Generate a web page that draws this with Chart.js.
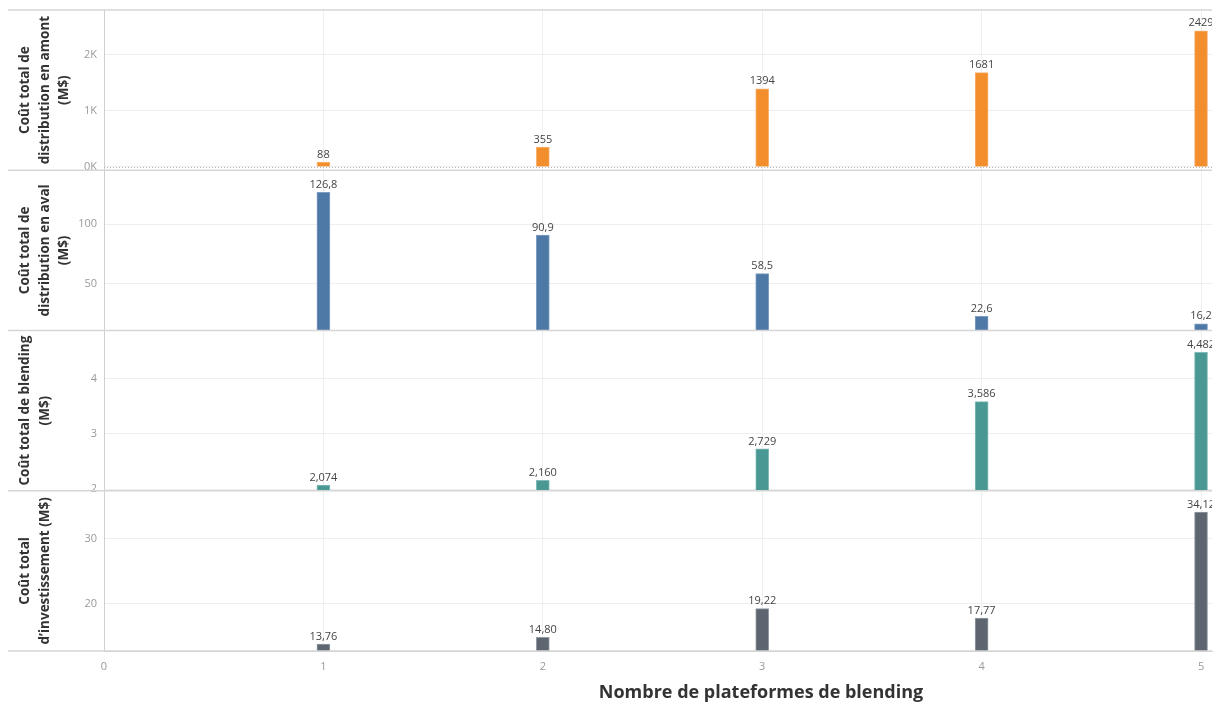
<!DOCTYPE html>
<html>
<head>
<meta charset="utf-8">
<script src="https://cdn.jsdelivr.net/npm/chart.js@4.4.1/dist/chart.umd.min.js"></script>
<style>
  html, body { margin: 0; padding: 0; background: #fff; }
</style>
</head>
<body>
<canvas id="chart" width="1221" height="706"></canvas>
<script>
const platforms = [1, 2, 3, 4, 5]
const xTicks = [0, 1, 2, 3, 4, 5]

const amont = [88, 355, 1394, 1681, 2429]
const aval = [126.8, 90.9, 58.5, 22.6, 16.2]
const blending = [2.074, 2.160, 2.729, 3.586, 4.482]
const investissement = [13.76, 14.80, 19.22, 17.77, 34.12]

const amontTicks = [0, 1000, 2000]
const avalTicks = [50, 100]
const blendingTicks = [2, 3, 4]
const investTicks = [20, 30]

const FONT = "'Open Sans', 'Noto Sans', sans-serif"
const GRID = '#efefef'
const AXIS = '#d0d0d0'
const TICK = '#9a9a9a'

// French decimal comma for the bar labels
const frNum = (v, digits) => v.toFixed(digits).replace('.', ',')

const toPoints = values => platforms.map((x, i) => ({ x, y: values[i] }))

function panelAxis (title, min, max, ticks, fmt) {
  return {
    type: 'linear',
    position: 'left',
    stack: 'panels',
    stackWeight: 1,
    offset: false,
    min,
    max,
    afterBuildTicks: scale => { scale.ticks = ticks.map(value => ({ value })) },
    afterFit: scale => {
      scale.width = 104
      // no extra room for the end labels, panels sit flush
      scale.paddingTop = 0
      scale.paddingBottom = 0
    },
    grid: { color: GRID, drawTicks: false },
    border: { color: AXIS },
    ticks: {
      color: TICK,
      padding: 7,
      font: { family: FONT, size: 11 },
      callback: fmt || (v => v)
    },
    title: {
      display: true,
      text: title,
      color: '#333',
      padding: { top: 16, bottom: 0 },
      font: { family: FONT, size: 13.5, weight: 'bold', lineHeight: 1.42 }
    }
  }
}

const barDataset = (label, values, axis, color, border, digits) => ({
  label,
  data: toPoints(values),
  yAxisID: axis,
  backgroundColor: color,
  borderColor: border,
  borderWidth: 1,
  barThickness: 13,
  grouped: false,
  digits
})

// separators between the panels, dotted zero line in the top panel, x title
const panelLines = {
  id: 'panelLines',
  afterDraw (chart) {
    const { ctx, chartArea, scales } = chart
    const ids = ['yAmont', 'yAval', 'yBlend', 'yInvest']
    ctx.save()
    ctx.strokeStyle = '#d6d6d6'
    ctx.lineWidth = 1.5
    const ys = ids.map(id => scales[id].top)
    ys.push(scales.yInvest.bottom)
    ys.forEach(y => {
      ctx.beginPath()
      ctx.moveTo(8, y)
      ctx.lineTo(chartArea.right, y)
      ctx.stroke()
    })

    const zeroY = Math.round(scales.yAmont.getPixelForValue(0)) + 0.5
    ctx.strokeStyle = '#b5b5b5'
    ctx.lineWidth = 1
    ctx.setLineDash([1, 2])
    ctx.beginPath()
    ctx.moveTo(chartArea.left, zeroY)
    ctx.lineTo(chartArea.right, zeroY)
    ctx.stroke()
    ctx.setLineDash([])

    ctx.fillStyle = '#333'
    ctx.font = `bold 18px ${FONT}`
    ctx.textAlign = 'center'
    ctx.textBaseline = 'middle'
    ctx.fillText('Nombre de plateformes de blending', 761, 693)
    ctx.restore()
  }
}

const valueLabels = {
  id: 'valueLabels',
  afterDatasetsDraw (chart) {
    const { ctx, chartArea } = chart
    ctx.save()
    ctx.beginPath()
    ctx.rect(chartArea.left, 0, chartArea.right - chartArea.left, chart.height)
    ctx.clip()
    ctx.fillStyle = '#444'
    ctx.font = `11px ${FONT}`
    ctx.textAlign = 'center'
    ctx.textBaseline = 'bottom'
    chart.data.datasets.forEach((ds, i) => {
      chart.getDatasetMeta(i).data.forEach((bar, j) => {
        ctx.fillText(frNum(ds.data[j].y, ds.digits), bar.x, bar.y - 2)
      })
    })
    ctx.restore()
  }
}

new Chart(document.getElementById('chart'), {
  type: 'bar',
  data: {
    datasets: [
      barDataset('amont', amont, 'yAmont', '#F28E2B', '#f7b272', 0),
      barDataset('aval', aval, 'yAval', '#4E79A7', '#7f9fc2', 1),
      barDataset('blending', blending, 'yBlend', '#499894', '#82bbb7', 3),
      barDataset('investissement', investissement, 'yInvest', '#5D6670', '#959ca3', 2)
    ]
  },
  options: {
    responsive: false,
    animation: false,
    layout: { padding: { top: 10, right: 9, left: 0, bottom: 0 } },
    plugins: {
      legend: { display: false },
      tooltip: { enabled: false }
    },
    scales: {
      x: {
        type: 'linear',
        min: 0,
        max: 5.05,
        offset: false,
        afterBuildTicks: scale => { scale.ticks = xTicks.map(value => ({ value })) },
        afterFit: scale => { scale.height = 55 },
        grid: { color: GRID, drawTicks: false, offset: false },
        border: { color: AXIS },
        ticks: { color: TICK, padding: 9, font: { family: FONT, size: 11 } }
      },
      // stacked panels are laid out bottom-up
      yInvest: panelAxis(['Coût total', 'd\u2019investissement (M$)'], 12.7, 37.4, investTicks),
      yBlend: panelAxis(['Coût total de blending', '(M$)'], 1.969, 4.878, blendingTicks),
      yAval: panelAxis(['Coût total de', 'distribution en aval', '(M$)'], 10.6, 145.4, avalTicks),
      yAmont: panelAxis(['Coût total de', 'distribution en amont', '(M$)'], -60, 2800, amontTicks, v => (v / 1000) + 'K')
    }
  },
  plugins: [panelLines, valueLabels]
})
</script>
</body>
</html>
